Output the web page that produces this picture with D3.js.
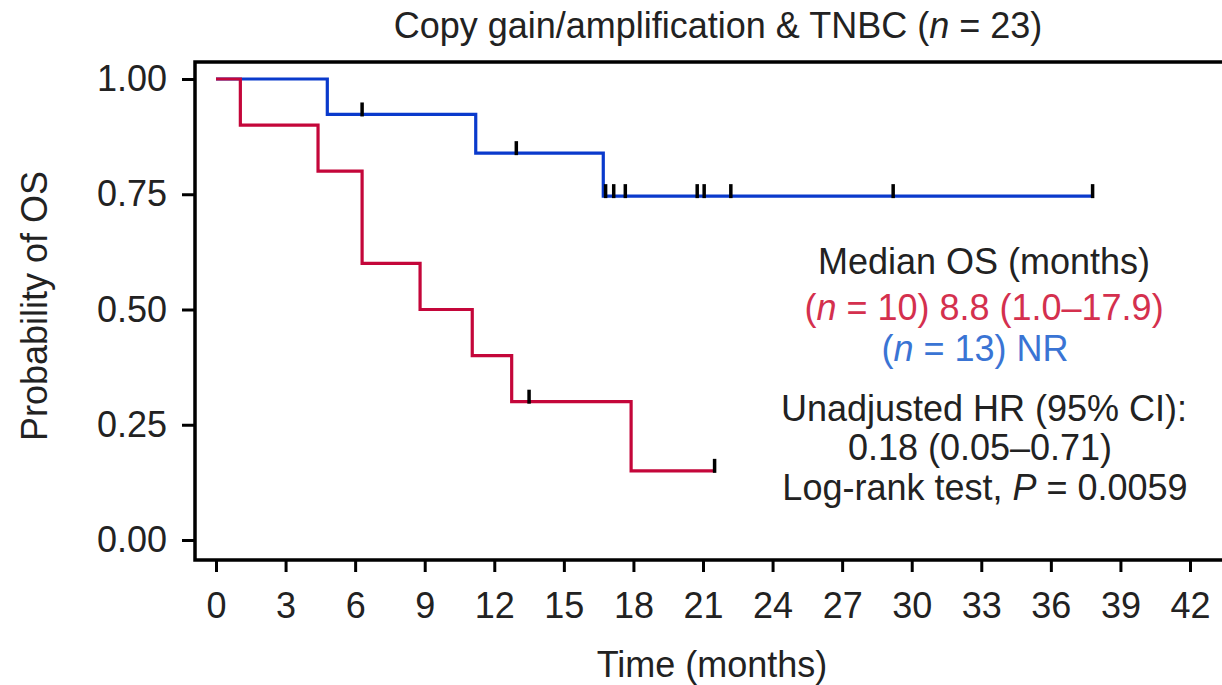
<!DOCTYPE html>
<html>
<head>
<meta charset="utf-8">
<script src="https://cdn.jsdelivr.net/npm/d3@7"></script>
<style>
  html, body { margin: 0; padding: 0; background: #fff; }
  svg { display: block; font-family: "Liberation Sans", Arial, sans-serif; }
</style>
</head>
<body>
<svg id="chart" width="1222" height="685"></svg>
<script>
// Overall survival, copy gain/amplification & TNBC cohort
const chartTitle = ["Copy gain/amplification & TNBC (", "n", " = 23)"];
const xTicks = [0, 3, 6, 9, 12, 15, 18, 21, 24, 27, 30, 33, 36, 39, 42];
const yTicks = [0, 0.25, 0.5, 0.75, 1];

// Group 1 (n = 10): follow-up time (months) and event flag (1 = death, 0 = censored)
const redTime  = [1.05, 4.4, 6.3, 6.3, 8.8, 11.05, 12.75, 13.5, 17.9, 21.5];
const redEvent = [1, 1, 1, 1, 1, 1, 1, 0, 1, 0];

// Group 2 (n = 13)
const blueTime  = [4.8, 6.3, 11.2, 12.95, 16.7, 16.8, 17.15, 17.65, 20.75, 21.05, 22.2, 29.2, 37.8];
const blueEvent = [1, 0, 1, 0, 1, 0, 0, 0, 0, 0, 0, 0, 0];

const groupColors = ["#c4063a", "#0a3acc"];
const textColors = ["#d4304e", "#3a74d4"];
const FONT = 36;

// Kaplan–Meier estimate: returns step points and censor marks
function kaplanMeier(times, events) {
  const idx = d3.range(times.length).sort((a, b) => times[a] - times[b]);
  let atRisk = times.length, s = 1;
  const steps = [{t: 0, s: 1}];
  const censors = [];
  let i = 0;
  while (i < idx.length) {
    const t = times[idx[i]];
    let d = 0, c = 0;
    while (i < idx.length && times[idx[i]] === t) {
      if (events[idx[i]]) d++; else c++;
      i++;
    }
    if (d > 0) {
      s = s * (atRisk - d) / atRisk;
      steps.push({t, s});
    }
    if (c > 0) censors.push({t, s});
    atRisk -= d + c;
  }
  const last = d3.max(times);
  steps.push({t: last, s});
  return {steps, censors};
}

const svg = d3.select("#chart");

const x = d3.scaleLinear().domain([0, 42]).range([216, 1190]);
const y = d3.scaleLinear().domain([0, 1]).range([540, 79]);

const frameLeft = 195, frameTop = 62, frameBottom = 560;

// Title
const title = svg.append("text")
  .attr("x", 718).attr("y", 38)
  .attr("text-anchor", "middle")
  .attr("font-size", FONT).attr("fill", "#222");
title.append("tspan").text(chartTitle[0]);
title.append("tspan").attr("font-style", "italic").text(chartTitle[1]);
title.append("tspan").text(chartTitle[2]);

// Y axis
const yAxis = svg.append("g")
  .attr("transform", `translate(${frameLeft},0)`)
  .call(d3.axisLeft(y).tickValues(yTicks).tickFormat(d3.format(".2f")).tickSize(13).tickPadding(15));
yAxis.select(".domain").remove();

// X axis
const xAxis = svg.append("g")
  .attr("transform", `translate(0,${frameBottom})`)
  .call(d3.axisBottom(x).tickValues(xTicks).tickSize(12).tickPadding(20));
xAxis.select(".domain").remove();

[yAxis, xAxis].forEach(g => {
  g.selectAll("line").attr("stroke", "#000").attr("stroke-width", 3);
  g.selectAll("text").attr("font-size", FONT).attr("fill", "#222")
    .attr("font-family", "'Liberation Sans', Arial, sans-serif");
});

// Frame
svg.append("path")
  .attr("d", `M1230,${frameTop}H${frameLeft}V${frameBottom}H1230`)
  .attr("fill", "none").attr("stroke", "#000").attr("stroke-width", 3.5);

// Axis titles
svg.append("text")
  .attr("transform", "translate(47,306) rotate(-90)")
  .attr("text-anchor", "middle")
  .attr("font-size", FONT).attr("fill", "#222")
  .text("Probability of OS");

svg.append("text")
  .attr("x", 712).attr("y", 677)
  .attr("text-anchor", "middle")
  .attr("font-size", FONT).attr("fill", "#222")
  .text("Time (months)");

// Survival curves
const groups = [kaplanMeier(redTime, redEvent), kaplanMeier(blueTime, blueEvent)];
const stepLine = d3.line().x(d => x(d.t)).y(d => y(d.s)).curve(d3.curveStepAfter);

// Draw the blue curve first so the red one sits on top where they meet
[1, 0].forEach(g => {
  svg.append("path")
    .datum(groups[g].steps)
    .attr("d", stepLine)
    .attr("fill", "none")
    .attr("stroke", groupColors[g])
    .attr("stroke-width", 3.2)
    .attr("stroke-linejoin", "miter")
    .attr("stroke-linecap", "butt");
});

[0, 1].forEach(g => {
  svg.append("g").selectAll("line")
    .data(groups[g].censors)
    .join("line")
    .attr("x1", d => x(d.t)).attr("x2", d => x(d.t))
    .attr("y1", d => y(d.s) + 2).attr("y2", d => y(d.s) - 12)
    .attr("stroke", "#000").attr("stroke-width", 3.5);
});

// Annotation block
const note = svg.append("g").attr("font-size", FONT).attr("text-anchor", "middle");
function line(parts, yPos, xPos, color) {
  const t = note.append("text").attr("x", xPos).attr("y", yPos).attr("fill", color);
  parts.forEach(p => {
    const s = t.append("tspan").text(p[0]);
    if (p[1]) s.attr("font-style", "italic");
  });
}
line([["Median OS (months)"]], 274, 984, "#222");
line([["("], ["n", true], [" = 10) 8.8 (1.0–17.9)"]], 320, 984, textColors[0]);
line([["("], ["n", true], [" = 13) NR"]], 361, 975, textColors[1]);
line([["Unadjusted HR (95% CI):"]], 421, 984, "#222");
line([["0.18 (0.05–0.71)"]], 460, 980, "#222");
line([["Log-rank test, "], ["P", true], [" = 0.0059"]], 500, 985, "#222");
</script>
</body>
</html>
